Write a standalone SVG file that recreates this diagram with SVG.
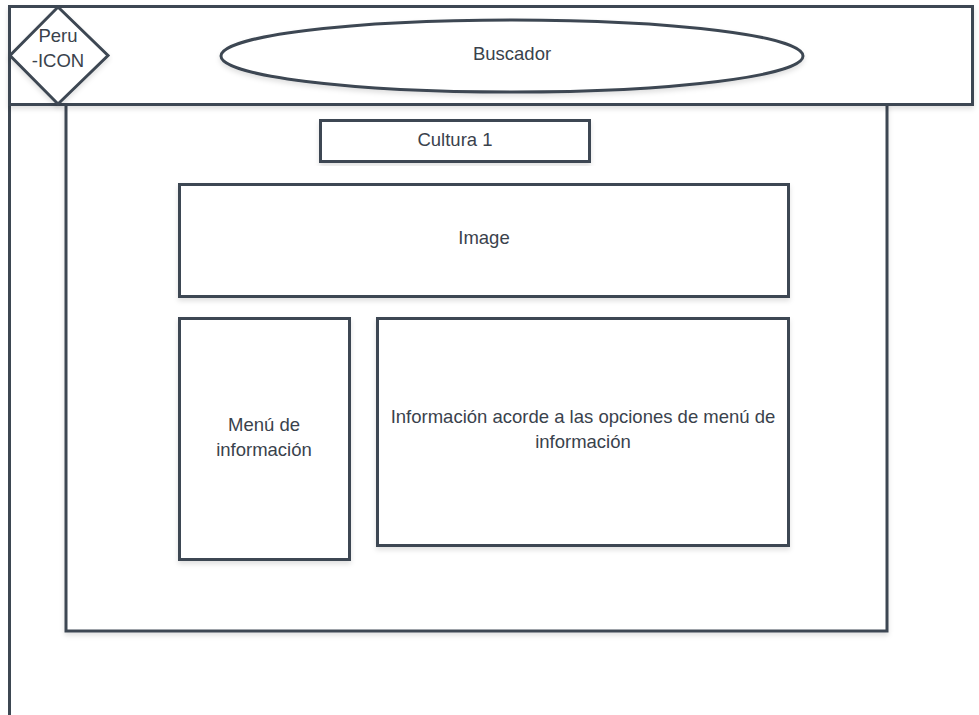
<svg xmlns="http://www.w3.org/2000/svg" width="979" height="715" viewBox="0 0 979 715">
  <defs>
    <filter id="shadow" x="-5%" y="-5%" width="110%" height="115%">
      <feDropShadow dx="0" dy="3" stdDeviation="2.5" flood-color="#000" flood-opacity="0.12"/>
    </filter>
  </defs>
  <style>
    .shape { fill: #ffffff; stroke: #3d4752; stroke-width: 3; filter: url(#shadow); }
    .line { fill: none; stroke: #3d4752; stroke-width: 3; }
    .label { font-family: "Liberation Sans", Arial, sans-serif; font-size: 18.5px; fill: #3a424c; text-anchor: middle; }
  </style>

  <rect width="979" height="715" fill="#ffffff"/>

  <!-- page frame: left rail and content panel -->
  <g id="connectors">
    <line class="line" x1="9.5" y1="104" x2="9.5" y2="715"/>
  </g>

  <g id="content-panel">
    <rect class="shape" x="66" y="104" width="821" height="527"/>
  </g>

  <!-- header bar -->
  <g id="header">
    <rect class="shape" x="9.5" y="6.5" width="963" height="98"/>
  </g>

  <g id="peru-icon">
    <polygon class="shape" points="58,7 108,55.5 58,104 10,55.5"/>
    <text class="label" x="58" y="42">Peru</text>
    <text class="label" x="58" y="67">-ICON</text>
  </g>

  <g id="buscador">
    <ellipse class="shape" cx="512" cy="56" rx="291" ry="36"/>
    <text class="label" x="512" y="60">Buscador</text>
  </g>

  <g id="cultura">
    <rect class="shape" x="320.5" y="120.5" width="269" height="41"/>
    <text class="label" x="455" y="146">Cultura 1</text>
  </g>

  <g id="image">
    <rect class="shape" x="179.5" y="184.5" width="609" height="112"/>
    <text class="label" x="484" y="244">Image</text>
  </g>

  <g id="menu">
    <rect class="shape" x="179.5" y="318.5" width="170" height="241"/>
    <text class="label" x="264" y="431">Menú de</text>
    <text class="label" x="264" y="456">información</text>
  </g>

  <g id="informacion">
    <rect class="shape" x="377.5" y="318.5" width="411" height="227"/>
    <text class="label" x="583" y="423">Información acorde a las opciones de menú de</text>
    <text class="label" x="583" y="448">información</text>
  </g>
</svg>
